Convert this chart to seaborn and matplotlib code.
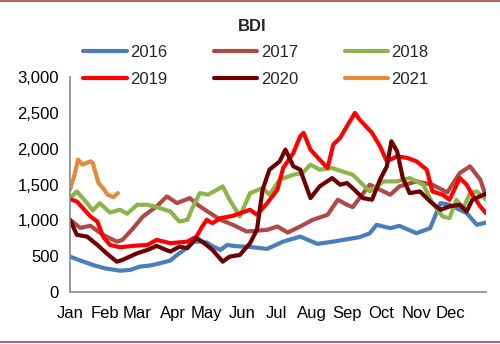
import numpy as np
import pandas as pd
import matplotlib
matplotlib.use("Agg")
import matplotlib.pyplot as plt
import seaborn as sns
from matplotlib.lines import Line2D

# ---- data (day of year, BDI value) ----
days_2016 = [0, 9, 20, 31, 44, 53, 61, 70, 79, 88, 94, 101, 108, 114, 120, 125, 132, 138, 145, 158, 173, 187,
             202, 217, 231, 243, 254, 263, 269, 281, 289, 304, 316, 325, 333, 348, 357, 365]
bdi_2016 = [494, 440, 378, 330, 298, 310, 354, 370, 402, 440, 518, 600, 704, 704, 690, 640, 588, 658, 640, 630, 602, 704,
            774, 672, 704, 737, 765, 820, 938, 891, 924, 821, 891, 1241, 1218, 1101, 938, 970]

days_2017 = [0, 9, 18, 29, 41, 46, 55, 64, 76, 85, 94, 105, 114, 123, 132, 143, 155, 173, 182, 191, 202, 213,
             226, 235, 243, 248, 263, 281, 289, 304, 318, 331, 342, 351, 360, 365]
bdi_2017 = [1008, 896, 924, 798, 704, 728, 882, 1054, 1194, 1334, 1241, 1311, 1194, 1101, 1008, 938, 845, 868, 915, 830,
            915, 1008, 1078, 1288, 1218, 1185, 1498, 1358, 1474, 1544, 1498, 1390, 1661, 1754, 1568, 1334]

days_2018 = [0, 6, 15, 20, 26, 35, 44, 50, 59, 68, 79, 88, 96, 103, 108, 114, 121, 129, 134, 140, 149, 158, 169,
             175, 184, 196, 204, 211, 219, 230, 243, 248, 257, 263, 275, 287, 298, 310, 318, 327, 333, 339, 345,
             351, 357, 365]
bdi_2018 = [1311, 1404, 1241, 1138, 1241, 1110, 1148, 1092, 1218, 1218, 1171, 1124, 984, 1008, 1194, 1381, 1358, 1428,
            1474, 1288, 1054, 1381, 1451, 1358, 1568, 1638, 1661, 1778, 1708, 1731, 1661, 1638, 1498, 1404, 1544,
            1544, 1591, 1498, 1241, 1054, 1031, 1288, 1171, 1381, 1404, 1288]

days_2019 = [0, 6, 18, 24, 29, 35, 44, 55, 68, 76, 88, 103, 111, 116, 120, 125, 132, 143, 158, 164, 173, 182, 187,
             196, 202, 205, 211, 219, 226, 231, 237, 243, 250, 254, 265, 272, 278, 287, 296, 304, 313, 318, 327,
             333, 342, 348, 353, 360, 365]
bdi_2019 = [1297, 1264, 1054, 984, 774, 658, 625, 644, 658, 728, 682, 704, 774, 915, 1008, 961, 1031, 1064, 1148, 1078,
            1241, 1428, 1731, 1941, 2174, 2221, 1988, 1848, 1731, 2058, 2151, 2314, 2500, 2408, 2221, 2034, 1824,
            1894, 1871, 1824, 1708, 1404, 1358, 1288, 1591, 1498, 1358, 1194, 1101]

days_2020 = [0, 6, 15, 24, 32, 41, 46, 59, 68, 76, 88, 96, 103, 111, 116, 125, 134, 140, 149, 158, 164, 169, 175,
             184, 189, 196, 202, 211, 219, 230, 237, 243, 248, 257, 265, 272, 278, 282, 287, 292, 298, 307, 316,
             325, 333, 342, 348, 353, 365]
bdi_2020 = [1008, 798, 774, 658, 542, 424, 448, 542, 588, 644, 564, 634, 612, 752, 704, 588, 424, 494, 518, 682, 868,
            1428, 1708, 1824, 1988, 1754, 1708, 1311, 1474, 1591, 1498, 1521, 1451, 1311, 1288, 1568, 1754, 2104,
            1964, 1591, 1381, 1404, 1264, 1148, 1194, 1218, 1124, 1288, 1372]

days_2021 = [0, 4, 7, 11, 18, 20, 25, 29, 33, 38, 42]
bdi_2021 = [1428, 1638, 1848, 1778, 1824, 1801, 1521, 1451, 1358, 1325, 1381]

years = ["2016", "2017", "2018", "2019", "2020", "2021"]
colors = ["#4A7EBB", "#AC4A46", "#8DB34A", "#FF0000", "#6E0000", "#E38B3B"]
month_labels = ["Jan", "Feb", "Mar", "Apr", "May", "Jun", "Jul", "Aug", "Sep", "Oct", "Nov", "Dec"]
month_starts = [0, 31, 59, 90, 120, 151, 181, 212, 243, 273, 304, 334]
y_ticks = [0, 500, 1000, 1500, 2000, 2500, 3000]

series = {
    "2016": (days_2016, bdi_2016), "2017": (days_2017, bdi_2017), "2018": (days_2018, bdi_2018),
    "2019": (days_2019, bdi_2019), "2020": (days_2020, bdi_2020), "2021": (days_2021, bdi_2021),
}
frames = [pd.DataFrame({"day": d, "bdi": v, "year": y}) for y, (d, v) in series.items()]
df = pd.concat(frames, ignore_index=True)

sns.set_style("white")
plt.rcParams["font.family"] = ["Liberation Sans", "DejaVu Sans"]

fig = plt.figure(figsize=(5.0, 3.44), dpi=100)
ax = fig.add_axes([0.14, 0.151, 0.832, 0.625])

sns.lineplot(data=df, x="day", y="bdi", hue="year", hue_order=years,
             palette=dict(zip(years, colors)), sort=False, estimator=None,
             linewidth=3.0, legend=False, ax=ax)

ax.set_xlim(0, 365)
ax.set_ylim(0, 3000)
ax.set_xticks(month_starts)
ax.set_xticklabels(month_labels, fontsize=12)
ax.set_yticks(y_ticks)
ax.set_yticklabels([f"{t:,}" for t in y_ticks], fontsize=12)
ax.set_xlabel("")
ax.set_ylabel("")
for s in ["top", "right"]:
    ax.spines[s].set_visible(False)
for s in ["left", "bottom"]:
    ax.spines[s].set_color("#898989")
    ax.spines[s].set_linewidth(1.2)
ax.tick_params(axis="x", direction="in", length=4, color="#898989", pad=10, labelcolor="black")
ax.tick_params(axis="y", length=0, pad=8, labelcolor="black")

fig.text(0.505, 0.922, "BDI", ha="center", va="center", fontsize=12, fontweight="bold")

# legend filled row by row: matplotlib fills columns, so reorder
order = [0, 3, 1, 4, 2, 5]
handles = [Line2D([0], [0], color=colors[i], lw=3.0, solid_capstyle="round") for i in order]
labels = [years[i] for i in order]
fig.legend(handles, labels, loc="center", bbox_to_anchor=(0.512, 0.808), ncol=3,
           frameon=False, fontsize=12, handlelength=2.6, handletextpad=0.2,
           columnspacing=2.8, labelspacing=0.75)

# thin frame lines at top and bottom of the figure
fig.add_artist(Line2D([0, 1], [0.996, 0.996], transform=fig.transFigure, color="#9E4A4A", lw=1.2))
fig.add_artist(Line2D([0, 1], [0.006, 0.006], transform=fig.transFigure, color="#9E4A4A", lw=1.2))

fig.savefig("out.png", dpi=100)
